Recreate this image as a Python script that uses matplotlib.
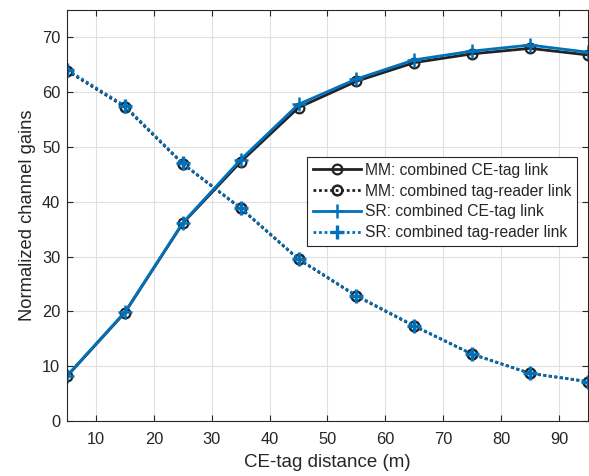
import matplotlib
matplotlib.use("Agg")
import matplotlib.pyplot as plt

plt.rcParams['font.family'] = ['Liberation Sans', 'DejaVu Sans']

distance = [5, 15, 25, 35, 45, 55, 65, 75, 85, 95]
mm_ce_tag = [8.2, 19.8, 36.1, 47.3, 57.2, 62.0, 65.4, 67.0, 68.0, 66.8]
mm_tag_reader = [63.9, 57.3, 46.9, 38.8, 29.5, 22.8, 17.3, 12.2, 8.7, 7.2]
sr_ce_tag = [8.3, 19.9, 36.2, 47.7, 57.8, 62.4, 65.9, 67.5, 68.6, 67.3]
sr_tag_reader = [64.1, 57.5, 47.0, 38.9, 29.6, 22.9, 17.4, 12.2, 8.7, 7.2]

xticks = [10, 20, 30, 40, 50, 60, 70, 80, 90]
yticks = [0, 10, 20, 30, 40, 50, 60, 70]

text_c = '#262626'
mm_c = '#222222'
sr_c = '#0072BD'
dot = (0, (1, 1))

fig = plt.figure(figsize=(5.89, 4.76), dpi=100)
ax = fig.add_axes([0.114, 0.1155, 0.884, 0.8635])

ax.plot(distance, mm_ce_tag, color=mm_c, lw=2, marker='o', ms=7, mfc='none', mew=1.6,
        label='MM: combined CE-tag link')
ax.plot(distance, mm_tag_reader, color=mm_c, lw=2, ls=dot, marker='o', ms=7, mfc='none', mew=1.8,
        label='MM: combined tag-reader link')
ax.plot(distance, sr_ce_tag, color=sr_c, lw=2, marker='+', ms=9.5, mew=1.8,
        label='SR: combined CE-tag link')
ax.plot(distance, sr_tag_reader, color=sr_c, lw=2, ls=dot, marker='+', ms=9.5, mew=2.4,
        label='SR: combined tag-reader link')

ax.set_xlim(5, 95)
ax.set_ylim(0, 75)
ax.set_xticks(xticks)
ax.set_yticks(yticks)
ax.grid(True, color='#e0e0e0', lw=0.8)
ax.set_axisbelow(True)
ax.tick_params(direction='in', top=True, right=True, labelsize=11.8, colors=text_c, length=4)
ax.tick_params(axis='x', pad=8)
ax.tick_params(axis='y', pad=5)
for s in ax.spines.values():
    s.set_color(text_c)
    s.set_linewidth(0.8)

ax.set_xlabel('CE-tag distance (m)', fontsize=13.5, color=text_c, labelpad=5)
ax.set_ylabel('Normalized channel gains', fontsize=13.2, color=text_c, labelpad=4)

leg = ax.legend(loc='upper left', bbox_to_anchor=(0.461, 0.642), fontsize=11.25,
                frameon=True, fancybox=False, edgecolor=text_c, framealpha=1,
                handlelength=3.1, borderpad=0.35, labelspacing=0.38, handletextpad=0.25,
                borderaxespad=0)
leg.get_frame().set_linewidth(0.8)
for t in leg.get_texts():
    t.set_color(text_c)

fig.savefig('out.png', dpi=100)
